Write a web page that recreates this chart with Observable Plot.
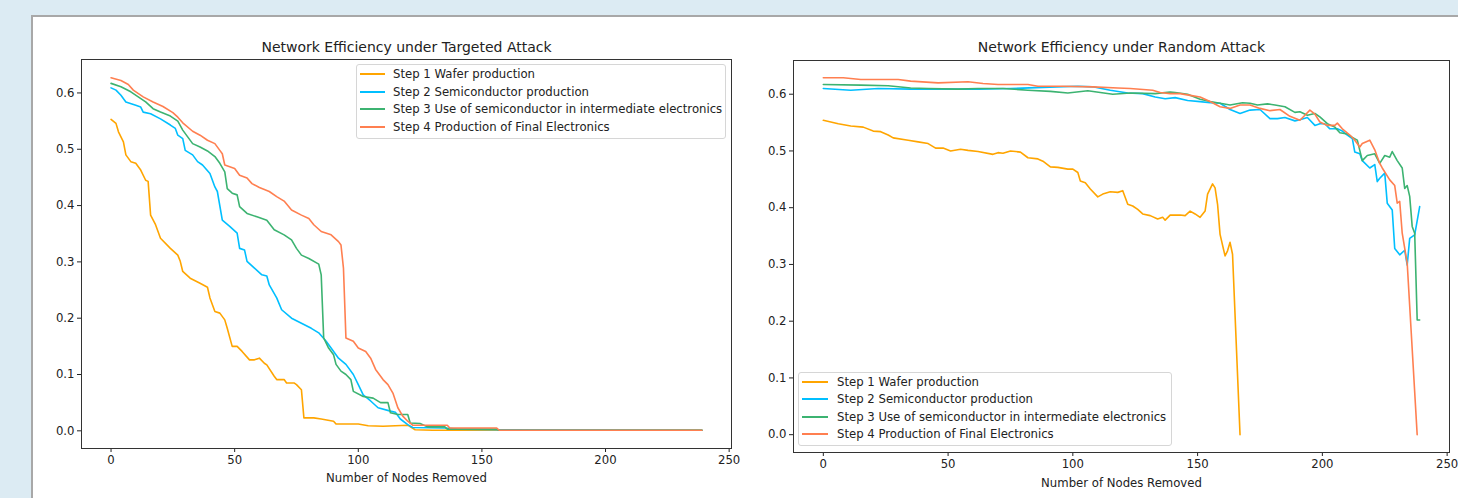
<!DOCTYPE html>
<html>
<head>
<meta charset="utf-8">
<script src="https://cdn.jsdelivr.net/npm/d3@7"></script>
<script src="https://cdn.jsdelivr.net/npm/@observablehq/plot@0.6"></script>
<style>
  html, body { margin: 0; padding: 0; width: 1458px; height: 498px; overflow: hidden; background: #dcebf3; font-family: "DejaVu Sans", sans-serif; }
  #panel { position: absolute; left: 31px; top: 15px; width: 1500px; height: 600px; background: #fff; border: 2px solid #a8a8a8; box-sizing: border-box; }
  .chart { position: absolute; top: 15px; }
  .legend { position: absolute; background: rgba(255,255,255,0.85); border: 1px solid #d6d6d6; border-radius: 3px; box-sizing: border-box; }
  .lg-line { position: absolute; height: 2px; }
  .lg-text { position: absolute; font-size: 11.7px; color: #222; white-space: nowrap; line-height: 14px; }
</style>
</head>
<body>
<div id="panel"></div>
<div id="left" class="chart" style="left:31px"></div>
<div id="right" class="chart" style="left:762px"></div>
<script>
// ---------- data ----------
const seriesNames = [
  "Step 1 Wafer production",
  "Step 2 Semiconductor production",
  "Step 3 Use of semiconductor in intermediate electronics",
  "Step 4 Production of Final Electronics"
];
const seriesColors = ["#FFA500", "#00BFFF", "#3CB371", "#FF7F50"];
const titles = ["Network Efficiency under Targeted Attack", "Network Efficiency under Random Attack"];
const xLabel = "Number of Nodes Removed";
const xTicks = [0, 50, 100, 150, 200, 250];
const yTicks = [0, 0.1, 0.2, 0.3, 0.4, 0.5, 0.6];

// Targeted attack
const tStep1X = [0,2,3,5,6,8,10,12,14,15,16,18,20,24,27,28,29,32,36,39,40,42,44,46,47,49,51,53,56,58,60,62,63,66,67,70,71,74,75,77,78,82,85,90,91,100,104,110,120,123,130,239];
const tStep1Y = [.553,.546,.531,.513,.490,.478,.475,.463,.445,.443,.383,.366,.342,.324,.312,.301,.283,.271,.262,.255,.236,.212,.209,.197,.182,.150,.150,.141,.126,.126,.129,.120,.117,.097,.091,.091,.085,.085,.082,.073,.023,.023,.021,.017,.012,.012,.009,.008,.010,.002,.001,.001];
const tStep2X = [0,2,4,6,10,12,13,16,20,24,26,27,29,30,33,35,37,40,42,43,45,48,51,52,54,55,58,61,63,64,67,69,73,77,81,84,87,89,92,95,98,100,102,105,108,113,115,117,120,122,135,140,157,239];
const tStep2Y = [.609,.605,.596,.584,.578,.575,.566,.563,.554,.543,.537,.525,.519,.498,.490,.478,.472,.457,.433,.425,.374,.363,.351,.324,.321,.301,.289,.277,.275,.259,.236,.215,.200,.191,.182,.174,.159,.147,.129,.118,.100,.082,.064,.053,.041,.035,.033,.021,.011,.006,.005,.003,.002,.001];
const tStep3X = [0,4,8,11,14,17,20,24,27,29,31,33,36,39,42,44,46,47,49,51,52,55,59,63,66,70,73,75,77,80,84,85,86,88,90,91,93,95,97,98,102,106,109,112,113,116,120,121,125,128,135,136,156,157,239];
const tStep3Y = [.617,.611,.602,.593,.584,.572,.566,.559,.550,.534,.522,.510,.504,.497,.487,.475,.460,.430,.422,.419,.398,.386,.380,.374,.357,.348,.339,.324,.312,.306,.296,.277,.165,.147,.135,.118,.106,.100,.091,.070,.061,.058,.050,.050,.032,.029,.029,.014,.013,.007,.007,.003,.003,.001,.001];
const tStep4X = [0,4,7,9,13,17,21,25,27,29,33,36,39,42,44,45,46,50,52,55,57,60,64,67,70,73,77,80,82,85,89,92,93,94,95,98,100,103,105,107,110,112,114,116,118,120,122,136,137,156,157,239];
const tStep4Y = [.627,.622,.615,.605,.593,.584,.576,.565,.557,.547,.532,.525,.516,.510,.498,.492,.472,.466,.454,.449,.439,.432,.425,.416,.408,.392,.383,.377,.366,.354,.348,.336,.330,.289,.165,.159,.147,.141,.129,.109,.091,.082,.067,.041,.026,.017,.010,.010,.005,.005,.001,.001];

// Random attack
const rStep1X = [0,6,11,16,20,23,26,28,34,38,42,45,48,51,55,58,62,68,70,72,75,79,82,86,88,91,94,98,100,102,103,105,107,110,112,115,118,120,122,124,126,128,131,134,136,137,139,143,145,147,149,151,153,154,156,157,158,159,161,162,163,164,167];
const rStep1Y = [.554,.548,.544,.542,.535,.534,.528,.523,.519,.516,.513,.505,.505,.500,.503,.501,.499,.494,.497,.496,.500,.498,.488,.486,.482,.472,.471,.468,.468,.462,.447,.444,.433,.419,.424,.428,.427,.430,.406,.403,.397,.389,.386,.380,.383,.378,.387,.387,.386,.394,.389,.383,.394,.424,.442,.435,.406,.353,.315,.324,.339,.318,0.0];
const rStep2X = [0,11,22,35,48,62,75,88,102,108,115,122,128,133,137,141,146,151,155,159,163,167,171,175,179,182,185,189,191,194,197,199,201,203,206,208,210,212,213,215,216,219,221,222,223,225,226,228,229,231,233,234,235,237,239];
const rStep2Y = [.610,.607,.610,.609,.609,.609,.610,.612,.614,.613,.607,.602,.601,.595,.592,.594,.589,.587,.585,.584,.573,.566,.572,.573,.557,.557,.559,.553,.555,.559,.545,.548,.548,.539,.539,.535,.528,.522,.498,.495,.483,.470,.476,.446,.452,.461,.408,.396,.328,.317,.325,.299,.346,.352,.402];
const rStep3X = [0,15,26,35,42,54,62,72,82,91,98,106,111,116,123,133,139,141,146,151,155,159,163,168,171,174,178,181,185,189,191,194,197,199,202,205,207,210,212,214,216,218,221,223,225,227,228,230,232,233,234,235,236,237,238,239];
const rStep3Y = [.617,.616,.615,.611,.610,.609,.610,.610,.607,.605,.602,.606,.603,.600,.602,.601,.604,.603,.600,.591,.587,.584,.581,.585,.584,.581,.583,.581,.578,.568,.569,.563,.566,.560,.548,.542,.532,.530,.524,.519,.483,.492,.495,.478,.492,.489,.499,.483,.470,.434,.439,.420,.367,.355,.202,.202];
const rStep4X = [0,8,15,30,35,46,58,64,70,82,86,96,108,118,123,132,135,139,143,147,151,155,159,163,167,171,175,179,183,187,191,193,195,197,199,202,205,206,208,211,213,215,216,219,221,223,224,227,229,230,231,232,234,238];
const rStep4Y = [.629,.629,.626,.626,.623,.620,.622,.619,.617,.617,.614,.614,.613,.611,.610,.607,.603,.601,.601,.598,.595,.587,.578,.575,.581,.581,.575,.571,.573,.561,.554,.563,.572,.565,.551,.545,.545,.549,.539,.528,.519,.507,.513,.519,.502,.478,.470,.449,.439,.408,.411,.355,.302,0.0];

// ---------- build ----------
function rows(xs, ys, name) { return xs.map((x, i) => ({series: name, x, y: ys[i]})); }
const targeted = [
  ...rows(tStep1X, tStep1Y, seriesNames[0]),
  ...rows(tStep2X, tStep2Y, seriesNames[1]),
  ...rows(tStep3X, tStep3Y, seriesNames[2]),
  ...rows(tStep4X, tStep4Y, seriesNames[3])
];
const random = [
  ...rows(rStep1X, rStep1Y, seriesNames[0]),
  ...rows(rStep2X, rStep2Y, seriesNames[1]),
  ...rows(rStep3X, rStep3Y, seriesNames[2]),
  ...rows(rStep4X, rStep4Y, seriesNames[3])
];

function chart(data, title, m) {
  return Plot.plot({
    width: m.width, height: 483,
    marginLeft: m.left, marginRight: m.right, marginTop: m.top, marginBottom: m.bottom,
    style: {fontFamily: "DejaVu Sans", fontSize: "11.7px", color: "#222", background: "transparent", overflow: "visible"},
    x: {domain: [-11.95, 250.95], ticks: xTicks, tickSize: 4, tickPadding: 3, label: null},
    y: {domain: [-0.0314, 0.6594], ticks: yTicks, tickFormat: ".1f", tickSize: 4, tickPadding: 3, label: null},
    color: {domain: seriesNames, range: seriesColors},
    marks: [
      Plot.frame({stroke: "#333", strokeWidth: 1}),
      Plot.line(data, {x: "x", y: "y", z: "series", stroke: "series", strokeWidth: 1.6}),
      Plot.text([title], {frameAnchor: "top", lineAnchor: "middle", dy: m.titleDy, fontSize: 14, fill: "#222"}),
      Plot.text([xLabel], {frameAnchor: "bottom", lineAnchor: "middle", dy: m.labelDy, fontSize: 11.7, fill: "#222"})
    ]
  });
}

document.getElementById("left").appendChild(chart(targeted, titles[0],
  {width: 731, left: 50, right: 31, top: 44, bottom: 50, titleDy: -12, labelDy: 30}));
document.getElementById("right").appendChild(chart(random, titles[1],
  {width: 696, left: 31, right: 9, top: 45, bottom: 46, titleDy: -13, labelDy: 30.5}));

function legend(box, rowY, lineX0, lineX1, textX) {
  const el = document.createElement("div");
  el.className = "legend";
  el.style.left = box[0] + "px"; el.style.top = box[1] + "px";
  el.style.width = (box[2] - box[0]) + "px"; el.style.height = (box[3] - box[1]) + "px";
  document.body.appendChild(el);
  seriesNames.forEach((name, i) => {
    const cy = rowY[i];
    const ln = document.createElement("div");
    ln.className = "lg-line";
    ln.style.left = lineX0 + "px"; ln.style.width = (lineX1 - lineX0) + "px";
    ln.style.top = Math.round(cy - 1) + "px"; ln.style.background = seriesColors[i];
    document.body.appendChild(ln);
    const tx = document.createElement("div");
    tx.className = "lg-text";
    tx.style.left = textX + "px"; tx.style.top = Math.round(cy - 7) + "px";
    tx.textContent = name;
    document.body.appendChild(tx);
  });
}
legend([356, 64, 726, 139], [73.5, 91.5, 109.3, 127], 360, 385, 393);
legend([798, 372, 1172, 446], [381.7, 399, 416.5, 434], 802, 828, 837);
</script>
</body>
</html>
